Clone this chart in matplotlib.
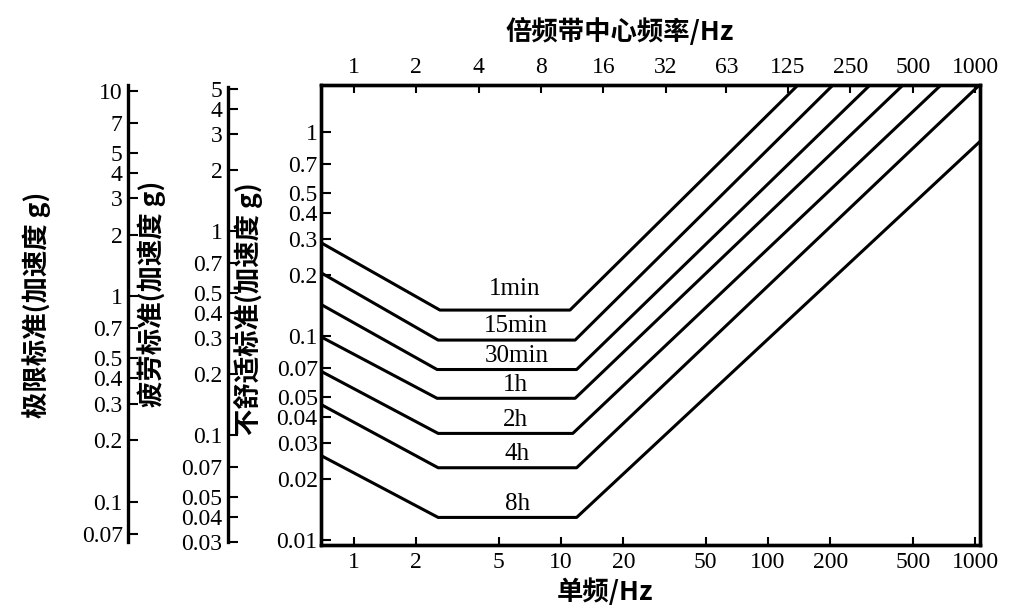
import matplotlib
matplotlib.use("Agg")
import matplotlib.pyplot as plt
from matplotlib.ticker import FixedLocator, NullLocator

plt.rcParams['font.family'] = ['Liberation Serif', 'Noto Sans CJK SC']

# ---------------- data ----------------
durations = ['1min', '15min', '30min', '1h', '2h', '4h', '8h']
# frequency breakpoints (Hz) of each curve: start, knee1, knee2, end
freq_1min = [0.70, 2.60, 11.05, 139.6]
freq_15min = [0.70, 2.55, 11.7, 206]
freq_30min = [0.70, 2.52, 11.9, 311]
freq_1h = [0.70, 2.52, 11.7, 449]
freq_2h = [0.70, 2.55, 11.4, 685]
freq_4h = [0.70, 2.55, 11.9, 1051]
freq_8h = [0.70, 2.55, 11.9, 1051]
# acceleration (g, discomfort scale) at the same breakpoints
acc_1min = [0.285, 0.134, 0.134, 1.70]
acc_15min = [0.203, 0.0955, 0.0955, 1.70]
acc_30min = [0.142, 0.0685, 0.0685, 1.70]
acc_1h = [0.0985, 0.0495, 0.0495, 1.70]
acc_2h = [0.0668, 0.0333, 0.0333, 1.70]
acc_4h = [0.0459, 0.0226, 0.0226, 1.70]
acc_8h = [0.0258, 0.0129, 0.0129, 0.894]

freqs = [freq_1min, freq_15min, freq_30min, freq_1h, freq_2h, freq_4h, freq_8h]
accs = [acc_1min, acc_15min, acc_30min, acc_1h, acc_2h, acc_4h, acc_8h]

single_freq_ticks = [1, 2, 5, 10, 20, 50, 100, 200, 500, 1000]
octave_centers = [1, 2, 4, 8, 16, 32, 63, 125, 250, 500, 1000]
comfort_ticks = [0.01, 0.02, 0.03, 0.04, 0.05, 0.07, 0.1, 0.2, 0.3, 0.4, 0.5, 0.7, 1]
comfort_labels = ['0.01', '0.02', '0.03', '0.04', '0.05', '0.07', '0.1',
                  '0.2', '0.3', '0.4', '0.5', '0.7', '1']
fatigue_ticks = [0.03, 0.04, 0.05, 0.07, 0.1, 0.2, 0.3, 0.4, 0.5, 0.7, 1, 2, 3, 4, 5]
fatigue_labels = ['0.03', '0.04', '0.05', '0.07', '0.1', '0.2', '0.3', '0.4',
                  '0.5', '0.7', '1', '2', '3', '4', '5']
limit_ticks = [0.07, 0.1, 0.2, 0.3, 0.4, 0.5, 0.7, 1, 2, 3, 4, 5, 7, 10]
limit_labels = ['0.07', '0.1', '0.2', '0.3', '0.4', '0.5', '0.7', '1', '2',
                '3', '4', '5', '7', '10']

# ---------------- layout helpers ----------------
W, H = 1022, 613
fig = plt.figure(figsize=(W / 100, H / 100), dpi=100)


def fx(px):
    return px / W


def fy(py):
    return 1 - py / H


SPINE_W = 2.4
TICK_FS = 17
CJK = ['Noto Sans CJK SC', 'Liberation Serif']

# main axes (discomfort scale)
x0, x1, y0, y1 = 320.5, 979.5, 85, 545
ax = fig.add_axes([fx(x0), fy(y1), (x1 - x0) / W, (y1 - y0) / H])
ax.set_xscale('log')
ax.set_yscale('log')
ax.set_xlim(0.689, 1051)
ax.set_ylim(0.00945, 1.70)

for f, a in zip(freqs, accs):
    ax.plot(f, a, color='black', lw=2.2, solid_joinstyle='round')

for i, (name, f, a) in enumerate(zip(durations, freqs, accs)):
    fmid = (f[1] * f[2]) ** 0.5
    ax.annotate(name, (fmid, a[1]), xytext=(7, 7 if i == 0 else 2),
                textcoords='offset points',
                ha='center', va='bottom', fontsize=18)

for s in ax.spines.values():
    s.set_linewidth(SPINE_W)

ax.xaxis.set_major_locator(FixedLocator(single_freq_ticks))
ax.set_xticklabels([str(v) for v in single_freq_ticks])
ax.xaxis.set_minor_locator(NullLocator())
ax.yaxis.set_major_locator(FixedLocator(comfort_ticks))
ax.set_yticklabels(comfort_labels)
ax.yaxis.set_minor_locator(NullLocator())
ax.tick_params(axis='x', direction='in', length=6, width=1.5,
               labelsize=TICK_FS, pad=5, top=False)
ax.tick_params(axis='y', direction='in', length=7, width=1.5,
               labelsize=TICK_FS, pad=2, right=False)

# top axis: octave band centre frequencies
axt = ax.twiny()
axt.set_xscale('log')
axt.set_xlim(ax.get_xlim())
axt.xaxis.set_major_locator(FixedLocator(octave_centers))
axt.set_xticklabels([str(v) for v in octave_centers])
axt.xaxis.set_minor_locator(NullLocator())
axt.tick_params(axis='x', direction='in', length=6, width=1.5,
                labelsize=TICK_FS, pad=5)
for s in axt.spines.values():
    s.set_linewidth(SPINE_W)


def side_axis(xpx, ytop, ybot, lim, ticks, labels):
    a2 = fig.add_axes([fx(xpx), fy(ybot), 0.0005, (ybot - ytop) / H])
    a2.set_yscale('log')
    a2.set_ylim(lim)
    for s in ['top', 'right', 'bottom']:
        a2.spines[s].set_visible(False)
    a2.spines['left'].set_linewidth(SPINE_W)
    a2.set_xticks([])
    a2.yaxis.set_major_locator(FixedLocator(ticks))
    a2.set_yticklabels(labels)
    a2.yaxis.set_minor_locator(NullLocator())
    a2.tick_params(axis='y', direction='in', length=7, width=1.5,
                   labelsize=TICK_FS, pad=4)
    a2.patch.set_visible(False)
    return a2


side_axis(228, 87, 542, (0.030, 5.1), fatigue_ticks, fatigue_labels)
side_axis(128.3, 85, 541.7, (0.064, 10.7), limit_ticks, limit_labels)

# axis titles
fig.text(fx(620), fy(32), '倍频带中心频率/Hz', ha='center', va='center',
         fontsize=19, fontweight='bold', family=CJK)
fig.text(fx(605), fy(592), '单频/Hz', ha='center', va='center',
         fontsize=19, fontweight='bold', family=CJK)
fig.text(fx(248), fy(309), '不舒适标准(加速度 g)', rotation=90, ha='center',
         va='center', fontsize=19, fontweight='bold', family=CJK)
fig.text(fx(152), fy(294), '疲劳标准(加速度 g)', rotation=90, ha='center',
         va='center', fontsize=19, fontweight='bold', family=CJK)
fig.text(fx(37), fy(305), '极限标准(加速度 g)', rotation=90, ha='center',
         va='center', fontsize=19, fontweight='bold', family=CJK)

fig.savefig('out.png', dpi=100)
